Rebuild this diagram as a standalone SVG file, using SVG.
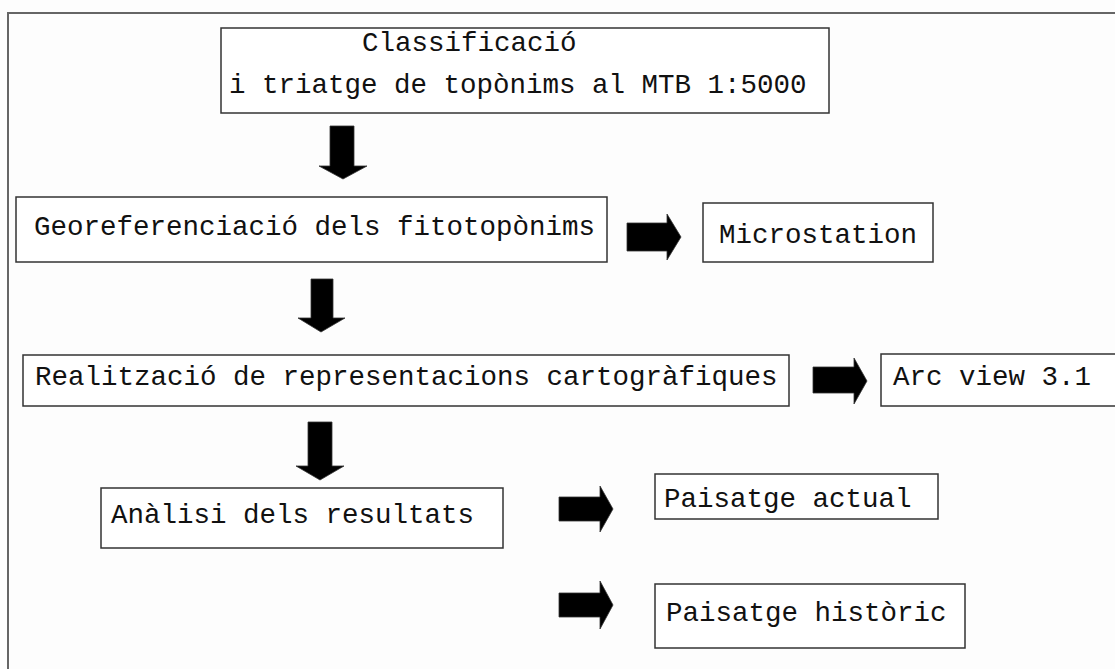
<svg xmlns="http://www.w3.org/2000/svg" width="1115" height="669" viewBox="0 0 1115 669">
<style>
.box{fill:#fff;stroke:#333;stroke-width:1.5}
.t{font-family:"Liberation Mono","Courier New",monospace;font-size:27.5px;fill:#111}
.arr{fill:#000;stroke:#333;stroke-width:0.8}
</style>
<rect x="0" y="0" width="1115" height="669" fill="#fdfdfd"/>
<path d="M8,669 V13 H1115" fill="none" stroke="#666" stroke-width="2"/>
<g id="n1"><rect class="box" x="221" y="28" width="608" height="85"/>
<text class="t" x="362" y="51">Classificació</text>
<text class="t" x="229" y="93">i triatge de topònims al MTB 1:5000</text></g>
<g id="n2"><rect class="box" x="16" y="197" width="591" height="65"/>
<text class="t" x="34" y="235">Georeferenciació dels fitotopònims</text></g>
<g id="n3"><rect class="box" x="703" y="203" width="230" height="59"/>
<text class="t" x="719" y="243">Microstation</text></g>
<g id="n4"><rect class="box" x="23" y="355" width="766" height="51"/>
<text class="t" x="35" y="385">Realització de representacions cartogràfiques</text></g>
<g id="n5"><rect class="box" x="881" y="354" width="250" height="52"/>
<text class="t" x="893" y="385">Arc view 3.1</text></g>
<g id="n6"><rect class="box" x="101" y="488" width="402" height="60"/>
<text class="t" x="111" y="523">Anàlisi dels resultats</text></g>
<g id="n7"><rect class="box" x="655" y="474" width="283" height="45"/>
<text class="t" x="664" y="507">Paisatge actual</text></g>
<g id="n8"><rect class="box" x="655" y="584" width="310" height="64"/>
<text class="t" x="666" y="621">Paisatge històric</text></g>
<g id="connectors">
<polygon class="arr" points="330,126 354,126 354,166 367,166 343,179 319,166 330,166"/>
<polygon class="arr" points="311,279 333,279 333,318 345,318 321,332 298,318 311,318"/>
<polygon class="arr" points="308,422 332,422 332,466 344,466 320,480 296,466 308,466"/>
<polygon class="arr" points="627,223 667,223 667,214 681,237 667,260 667,251 627,251"/>
<polygon class="arr" points="813,367 854,367 854,358 867,381 854,404 854,393 813,393"/>
<polygon class="arr" points="559,497 600,497 600,486 613,509 600,532 600,521 559,521"/>
<polygon class="arr" points="559,593 600,593 600,581 613,605 600,629 600,617 559,617"/>
</g>
</svg>
